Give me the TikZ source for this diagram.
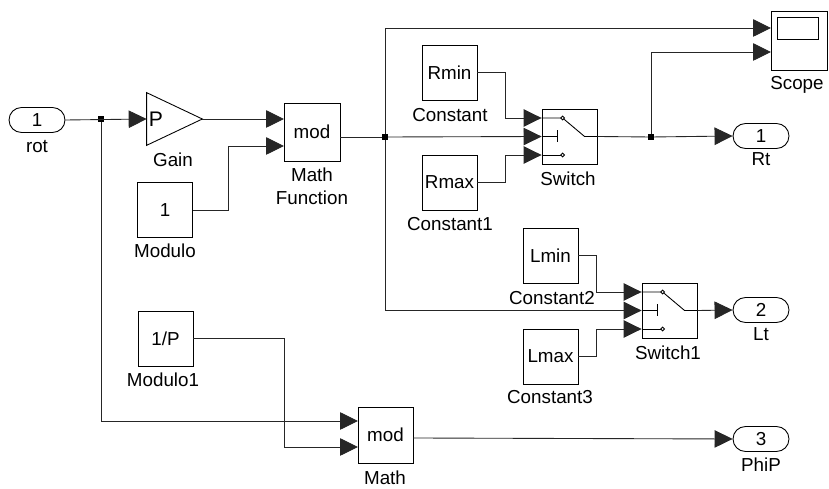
\documentclass[tikz,border=0pt]{standalone}
\usepackage{fontspec}
\setmainfont{Liberation Sans}
\usetikzlibrary{arrows.meta,calc,positioning}

% switch symbol inside a switch block
\newcommand{\switchsym}[1]{%
  \draw[line width=0.5pt] ($(#1.west)+(0,-18.5)$) -- ++(21,0) coordinate (#1-a)
    -- ($(#1.west)+(43,0)$) -- (#1.east);
  \draw[line width=0.5pt] (#1.west) -- ++(16,0) ++(0,-6) -- ++(0,12);
  \draw[line width=0.5pt] ($(#1.west)+(0,18.5)$) -- ++(21,0) coordinate (#1-b);
  \draw[line width=0.5pt,fill=white] (#1-a) circle[radius=1.1pt];
  \draw[line width=0.5pt,fill=white] (#1-b) circle[radius=1.1pt];
}

\begin{document}
\begin{tikzpicture}[x=0.02cm,y=-0.02cm,
  every node/.style={font=\fontsize{10.7}{12}\selectfont},
  blk/.style={draw,line width=0.5pt,minimum width=1.1cm,minimum height=1.1cm,inner sep=0pt},
  port/.style={draw,line width=0.5pt,rounded corners=0.25cm,minimum width=1.12cm,minimum height=0.5cm,inner sep=0pt},
  lbl/.style={anchor=base,inner sep=0pt},
  wire/.style={line width=0.5pt,draw=black!85},
  arr/.style={wire,-{Triangle[length=0.36cm,width=0.35cm]}},
  dot/.style={fill,inner sep=0pt,minimum size=3.2pt}]
 \useasboundingbox (0,0) rectangle (829,489);

 % ports
 \node[port] (rot) at (37,120) {1};
 \node[port] (rt) at (761,136) {1};
 \node[port] (lt) at (761,310) {2};
 \node[port] (phip) at (761,439) {3};
 \node[lbl] at (37,153) {rot};
 \node[lbl] at (761,166) {Rt};
 \node[lbl] at (761,341) {Lt};
 \node[lbl] at (761,472) {PhiP};

 % gain
 \node[minimum width=1.1cm,minimum height=1.04cm,inner sep=0pt] (gain) at (174.5,119) {};
 \draw[line width=0.5pt] (gain.north west) -- (gain.east) -- (gain.south west) -- cycle;
 \node[right=1pt of gain.west,inner sep=0pt,font=\fontsize{12}{13}\selectfont] {P};
 \node[lbl] at (173,167) {Gain};

 % blocks
 \node[blk] (modulo) at (165,210) {1};
 \node[lbl] at (165,258) {Modulo};
 \node[blk,minimum width=1.12cm,minimum height=1.16cm] (mf) at (312,132) {mod};
 \node[lbl] at (312,182) {Math};
 \node[lbl] at (312,205) {Function};
 \node[blk] (rmin) at (449.5,72.5) {Rmin};
 \node[lbl] at (450,122) {Constant};
 \node[blk] (rmax) at (449.5,182.5) {Rmax};
 \node[lbl] at (450,231) {Constant1};
 \node[blk] (sw) at (569.5,136.5) {};
 \switchsym{sw}
 \node[lbl] at (568,186) {Switch};
 \node[blk,minimum width=1.12cm,minimum height=1.18cm] (scope) at (799,40.5) {};
 \draw[line width=0.5pt] ($(scope.center)+(-22,-23.5)$) rectangle ($(scope.center)+(19,-1.5)$);
 \node[lbl] at (797,90) {Scope};
 \node[blk] (lmin) at (550.5,255.5) {Lmin};
 \node[lbl] at (552,305) {Constant2};
 \node[blk] (lmax) at (550.5,356.5) {Lmax};
 \node[lbl] at (550,404) {Constant3};
 \node[blk] (sw1) at (669.5,310.5) {};
 \switchsym{sw1}
 \node[lbl] at (668,360) {Switch1};
 \node[blk] (modulo1) at (165.5,338.5) {1/P};
 \node[lbl] at (163,387) {Modulo1};
 \node[blk,minimum width=1.1cm,minimum height=1.12cm] (math) at (385.5,435) {mod};
 \node[lbl] at (385,485) {Math};

 % input and output points
 \coordinate (mf-in1) at (284,119);
 \coordinate (mf-in2) at (284,146);
 \coordinate (mf-out) at (340,137);
 \coordinate (math-in1) at (358,421);
 \coordinate (math-in2) at (358,447);
 \coordinate (math-out) at (413,438);
 \coordinate (scope-in1) at (771,28);
 \coordinate (scope-in2) at (771,52);

 % junctions
 \node[dot] (j1) at (101,119) {};
 \node[dot] (j2) at (385,137) {};
 \node[dot] (j3) at (651,137) {};

 % wires
 \draw[arr] (rot.east) -- (gain.west);
 \draw[arr] (gain.east) -- (mf-in1);
 \draw[arr] (modulo.east) -- ++(36,0) |- (mf-in2);
 \draw[wire] (mf-out) -- (j2);
 \draw[arr] (j2) -- (sw.west);
 \draw[arr] (j2) |- (scope-in1);
 \draw[arr] (j2) |- (sw1.west);
 \draw[arr] (rmin.east) -- ++(28,0) |- ($(sw.west)+(0,-18.5)$);
 \draw[arr] (rmax.east) -- ++(28,0) |- ($(sw.west)+(0,18.5)$);
 \draw[wire] (sw.east) -- (j3);
 \draw[arr] (j3) -- (rt.west);
 \draw[arr] (j3) |- (scope-in2);
 \draw[arr] (lmin.east) -- ++(18,0) |- ($(sw1.west)+(0,-18.5)$);
 \draw[arr] (lmax.east) -- ++(18,0) |- ($(sw1.west)+(0,18.5)$);
 \draw[arr] (sw1.east) -- (lt.west);
 \draw[arr] (j1) |- (math-in1);
 \draw[arr] (modulo1.east) -- ++(91,0) |- (math-in2);
 \draw[arr] (math-out) -- (phip.west);
\end{tikzpicture}
\end{document}
